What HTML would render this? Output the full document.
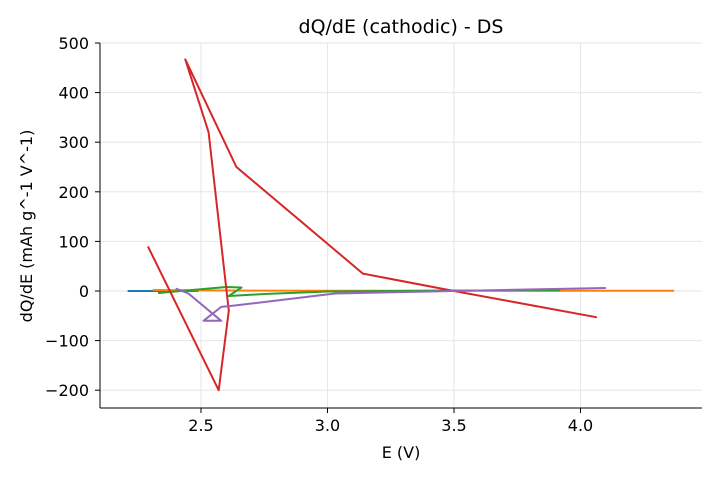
<!DOCTYPE html>
<html><head><meta charset="utf-8"><style>
body{margin:0;background:#fff}
svg text{font-family:"DejaVu Sans","Liberation Sans",sans-serif;fill:#000}
</style></head><body>
<svg id="chart" width="720" height="480" viewBox="0 0 720 480" xmlns="http://www.w3.org/2000/svg">
<text x="401" y="33" font-size="19" text-anchor="middle">dQ/dE (cathodic) - DS</text>
<g id="grid"></g>
<g id="series"></g>
<g id="axes"></g>
<text x="401" y="458" font-size="16" text-anchor="middle">E (V)</text>
<text transform="translate(32,226) rotate(-90)" font-size="16" text-anchor="middle">dQ/dE (mAh g^-1 V^-1)</text>
</svg>
<script>
const xTicks=[2.5,3.0,3.5,4.0];
const xTickLabels=["2.5","3.0","3.5","4.0"];
const yTicks=[-200,-100,0,100,200,300,400,500];
const yTickLabels=["\u2212200","\u2212100","0","100","200","300","400","500"];
const seriesColors=["#1f77b4","#ff7f0e","#2ca02c","#d62728","#9467bd"];
const blueX=[2.21,2.49];
const blueY=[0,0];
const orangeX=[2.31,2.6,3.0,3.5,4.37];
const orangeY=[2,1,0.5,0.5,0.5];
const greenX=[2.33,2.6,2.66,2.61,2.75,3.0,3.5,3.92];
const greenY=[-4,8,7,-10,-6,-1,1,1];
const redX=[2.29,2.57,2.61,2.53,2.438,2.64,3.14,3.5,4.065];
const redY=[90,-200,-40,320,467,250,35,0,-53];
const purpleX=[2.40,2.45,2.58,2.51,2.58,2.62,3.03,3.5,4.10];
const purpleY=[5,-5,-60,-60,-32,-30,-5,0,6];

const L=100,R=702,T=43,B=408;
const sx=v=>201+(v-2.5)*253;
const sy=v=>291-v*0.496;
const NS="http://www.w3.org/2000/svg";
function mk(tag,attrs,parent){const e=document.createElementNS(NS,tag);for(const k in attrs)e.setAttribute(k,attrs[k]);parent.appendChild(e);return e;}
const grid=document.getElementById('grid'),axes=document.getElementById('axes'),ser=document.getElementById('series');
xTicks.forEach((t,i)=>{
 const g=mk('line',{x1:sx(t),x2:sx(t),y1:T,y2:B,stroke:'#e6e6e6','stroke-width':1},grid);
 
 
 const tk=mk('line',{x1:sx(t),x2:sx(t),y1:B,y2:B+5,stroke:'#000','stroke-width':1},axes);
 
 
 const tx=mk('text',{x:sx(t),y:B+23,'font-size':16,'text-anchor':'middle'},axes);
 tx.textContent=xTickLabels[i];
 
 
});
yTicks.forEach((t,i)=>{
 const g=mk('line',{x1:L,x2:R,y1:sy(t),y2:sy(t),stroke:'#e6e6e6','stroke-width':1},grid);
 
 
 const tk=mk('line',{x1:L-5,x2:L,y1:sy(t),y2:sy(t),stroke:'#000','stroke-width':1},axes);
 
 
 const tx=mk('text',{x:L-11,y:sy(t)+6,'font-size':16,'text-anchor':'end'},axes);
 tx.textContent=yTickLabels[i];
 
 
});
const la=mk('line',{x1:L,x2:L,y1:T,y2:B,stroke:'#000','stroke-width':1},axes);


const ba=mk('line',{x1:L,x2:R,y1:B,y2:B,stroke:'#000','stroke-width':1},axes);


const all=[[blueX,blueY,'series-blue'],[orangeX,orangeY,'series-orange'],[greenX,greenY,'series-green'],[redX,redY,'series-red'],[purpleX,purpleY,'series-purple']];
all.forEach((s,i)=>{
 const pts=s[0].map((x,j)=>sx(x).toFixed(1)+','+sy(s[1][j]).toFixed(1)).join(' ');
 const p=mk('polyline',{points:pts,fill:'none',stroke:seriesColors[i],'stroke-width':2,'stroke-linejoin':'round'},ser);
 
 
});
</script>
</body></html>
